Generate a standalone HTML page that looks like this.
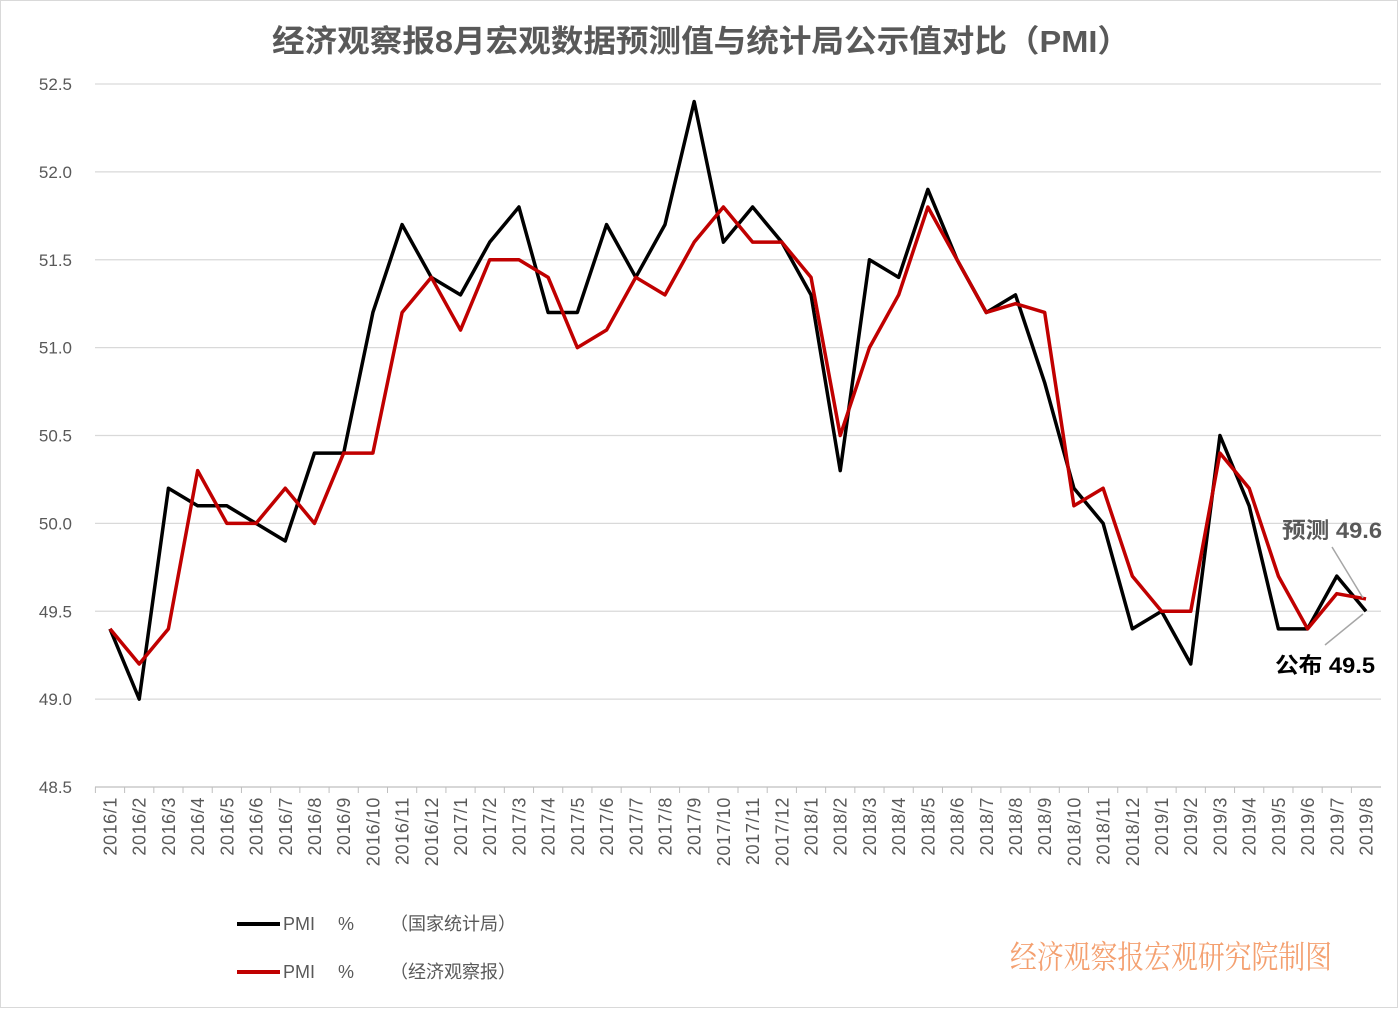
<!DOCTYPE html>
<html><head><meta charset="utf-8"><style>
body{margin:0;background:#fff}
svg text{font-family:"Liberation Sans","Noto Sans CJK SC",sans-serif}
</style></head><body>
<svg width="1398" height="1008" viewBox="0 0 1398 1008" xmlns="http://www.w3.org/2000/svg">
<rect x="0.5" y="0.5" width="1397" height="1007" fill="#fff" stroke="#d9d9d9"/>
<text x="272" y="52" font-size="31" font-weight="bold" fill="#595959" textLength="858" lengthAdjust="spacingAndGlyphs">经济观察报8月宏观数据预测值与统计局公示值对比（PMI）</text>
<g id="grid"></g><g id="xl"></g><g id="lines"></g>
<text x="1282" y="538" font-size="22" font-weight="bold" fill="#595959" textLength="100" lengthAdjust="spacingAndGlyphs">预测 49.6</text>
<line x1="1332" y1="547" x2="1363" y2="598" stroke="#a6a6a6" stroke-width="1.5"/>
<text x="1275" y="673" font-size="22" font-weight="bold" fill="#000" textLength="100" lengthAdjust="spacingAndGlyphs">公布 49.5</text>
<line x1="1325" y1="645" x2="1363" y2="614" stroke="#a6a6a6" stroke-width="1.5"/>
<g><line x1="237" y1="924" x2="280" y2="924" stroke="#000" stroke-width="4"/><text y="930" font-size="18" fill="#595959"><tspan x="283">PMI</tspan><tspan x="338">%</tspan><tspan x="390">（国家统计局）</tspan></text></g>
<g><line x1="237" y1="972" x2="280" y2="972" stroke="#c00000" stroke-width="4"/><text y="978" font-size="18" fill="#595959"><tspan x="283">PMI</tspan><tspan x="338">%</tspan><tspan x="390">（经济观察报）</tspan></text></g>
<text x="1010" y="968" font-size="32" fill="#f4a070" textLength="322" lengthAdjust="spacingAndGlyphs" style="font-family:'Noto Serif CJK SC',serif">经济观察报宏观研究院制图</text>
</svg>
<script>
const official=[49.4,49.0,50.2,50.1,50.1,50.0,49.9,50.4,50.4,51.2,51.7,51.4,51.3,51.6,51.8,51.2,51.2,51.7,51.4,51.7,52.4,51.6,51.8,51.6,51.3,50.3,51.5,51.4,51.9,51.5,51.2,51.3,50.8,50.2,50.0,49.4,49.5,49.2,50.5,50.1,49.4,49.4,49.7,49.5];
const forecast=[49.4,49.2,49.4,50.3,50.0,50.0,50.2,50.0,50.4,50.4,51.2,51.4,51.1,51.5,51.5,51.4,51.0,51.1,51.4,51.3,51.6,51.8,51.6,51.6,51.4,50.5,51.0,51.3,51.8,51.5,51.2,51.25,51.2,50.1,50.2,49.7,49.5,49.5,50.4,50.2,49.7,49.4,49.6,49.57];
const yTicks=["48.5","49.0","49.5","50.0","50.5","51.0","51.5","52.0","52.5"];
const categories=[];
for(let y=2016;y<=2019;y++)for(let m=1;m<=12;m++){if(y===2019&&m>8)break;categories.push(y+"/"+m);}
const NS="http://www.w3.org/2000/svg";
const Y=v=>787-(v-48.5)*175.75;
const X=i=>110+i*(1366-110)/(categories.length-1);
function mk(t,a,p){const e=document.createElementNS(NS,t);for(const k in a)e.setAttribute(k,a[k]);p.appendChild(e);return e;}
const g=document.getElementById('grid');
yTicks.forEach((t,i)=>{const v=parseFloat(t);
const l=mk('line',{x1:95,x2:1381,y1:Y(v),y2:Y(v),stroke:i===0?'#bfbfbf':'#d9d9d9','stroke-width':1.3},g);


const tx=mk('text',{x:72,y:Y(v)+6,'text-anchor':'end','font-size':17,fill:'#595959'},g);tx.textContent=t;

});
const xl=document.getElementById('xl');
categories.forEach((c,i)=>{const x=X(i);
const tk=mk('line',{x1:x-14.6,x2:x-14.6,y1:787,y2:793,stroke:'#bfbfbf'},xl);


const t=mk('text',{x:0,y:0,'text-anchor':'end','font-size':18,'letter-spacing':'0.6',fill:'#595959',transform:`translate(${x+6.5},797) rotate(-90)`},xl);t.textContent=c;

});
const L=document.getElementById('lines');
[[official,'#000','official-series-line'],[forecast,'#c00000','forecast-series-line']].forEach(([d,c,n])=>{
const p=mk('polyline',{points:d.map((v,i)=>X(i)+','+Y(v)).join(' '),fill:'none',stroke:c,'stroke-width':3.5,'stroke-linejoin':'round'},L);

});
</script>
</body></html>
